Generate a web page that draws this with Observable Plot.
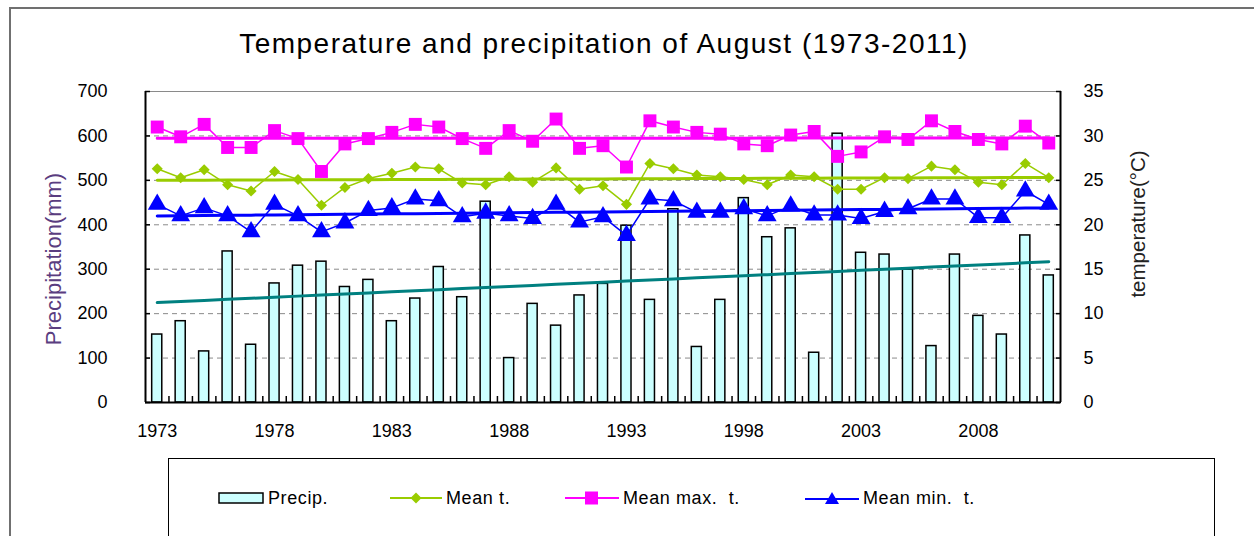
<!DOCTYPE html>
<html><head><meta charset="utf-8">
<script src="https://cdn.jsdelivr.net/npm/d3@7"></script>
<script src="https://cdn.jsdelivr.net/npm/@observablehq/plot@0.6"></script>
<style>
body{margin:0;background:#fff;font-family:"Liberation Sans",Arial,sans-serif;}
#wrap{position:relative;width:1254px;height:536px;overflow:hidden;background:#fff;}
#outer{position:absolute;left:9px;top:7px;width:1400px;height:700px;border:2px solid #707070;box-sizing:border-box;}
#title{position:absolute;left:0;width:1208px;top:28px;text-align:center;font-size:28px;letter-spacing:1.5px;line-height:32px;color:#000;white-space:nowrap;}
#chart{position:absolute;left:0;top:0;}
#legend{position:absolute;left:168px;top:458px;width:1047px;height:120px;border:1.5px solid #000;box-sizing:border-box;}
.item{position:absolute;top:487px;height:22px;display:flex;align-items:center;font-size:18px;letter-spacing:0.6px;color:#000;white-space:pre;}
.item svg{margin-right:4px;}
</style></head>
<body>
<div id="wrap">
  <div id="outer"></div>
  <div id="chart"></div>
  <div id="title">Temperature and precipitation of August (1973-2011)</div>
  <div id="legend"></div>
  <div class="item" style="left:218px"><svg width="46" height="14"><rect x="1" y="2" width="44" height="10" fill="#ccffff" stroke="#000" stroke-width="1.5"/></svg>Precip.</div>
  <div class="item" style="left:390px"><svg width="52" height="14"><line x1="0" y1="7" x2="52" y2="7" stroke="#99cc00" stroke-width="2"/><path d="M26,1.5L31.5,7L26,12.5L20.5,7Z" fill="#99cc00"/></svg>Mean t.</div>
  <div class="item" style="left:565px"><svg width="54" height="14"><line x1="0" y1="7" x2="54" y2="7" stroke="#ff00ff" stroke-width="2"/><rect x="20" y="0.5" width="13" height="13" fill="#ff00ff"/></svg>Mean max.  t.</div>
  <div class="item" style="left:805px"><svg width="54" height="14"><line x1="0" y1="8" x2="54" y2="8" stroke="#0000ff" stroke-width="2"/><path d="M27,1L34,13L20,13Z" fill="#0000ff"/></svg>Mean min.  t.</div>
</div>
<script>
// ---- data ----
const years = [1973,1974,1975,1976,1977,1978,1979,1980,1981,1982,1983,1984,1985,1986,1987,1988,1989,1990,1991,1992,1993,1994,1995,1996,1997,1998,1999,2000,2001,2002,2003,2004,2005,2006,2007,2008,2009,2010,2011];
const precip = [153,183,115,340,130,268,308,317,260,276,183,234,305,237,452,100,222,173,241,267,398,231,435,125,231,460,372,392,112,605,337,333,299,127,333,195,153,376,286];
const meanT = [26.3,25.3,26.2,24.5,23.8,26.0,25.1,22.2,24.2,25.2,25.8,26.5,26.3,24.7,24.5,25.4,24.8,26.4,24.0,24.4,22.3,26.9,26.3,25.6,25.4,25.1,24.5,25.6,25.4,24.0,24.0,25.3,25.2,26.6,26.2,24.8,24.5,26.9,25.3];
const maxT = [31.0,29.9,31.3,28.7,28.7,30.6,29.7,26.0,29.1,29.7,30.4,31.3,31.0,29.7,28.6,30.6,29.4,31.9,28.6,28.9,26.5,31.7,31.0,30.4,30.2,29.1,28.9,30.1,30.5,27.7,28.2,29.9,29.6,31.7,30.5,29.6,29.1,31.1,29.2];
const minT = [22.3,21.0,21.9,21.0,19.2,22.3,21.0,19.2,20.2,21.6,21.9,22.9,22.7,20.9,21.3,21.0,20.7,22.3,20.3,20.9,18.8,22.9,22.7,21.4,21.4,21.8,21.0,22.1,21.1,21.1,20.7,21.5,21.8,22.9,22.9,20.8,20.8,23.8,22.3];
const precipTicks = [0,100,200,300,400,500,600,700];
const tempTicks = [0,5,10,15,20,25,30,35];
const yearLabels = [1973,1978,1983,1988,1993,1998,2003,2008];

// ---- derived ----
const K = 700 / 35; // temperature -> precipitation scale factor
const rows = years.map((year, i) => ({year, precip: precip[i], meanT: meanT[i] * K, maxT: maxT[i] * K, minT: minT[i] * K}));
function trend(key) {
  const xs = rows.map((d, i) => i), ys = rows.map(d => d[key]);
  const mx = d3.mean(xs), my = d3.mean(ys);
  const b = d3.sum(xs.map((x, i) => (x - mx) * (ys[i] - my))) / d3.sum(xs.map(x => (x - mx) ** 2));
  return rows.map((d, i) => ({year: d.year, v: my + b * (i - mx)}));
}

const W = 1254, H = 536, ML = 145, MR = 194, MT = 91, MB = 134;
const step = (W - ML - MR) / years.length;
const green = "#99cc00", magenta = "#ff00ff", blue = "#0000ff", teal = "#008080";

const chart = Plot.plot({
  width: W, height: H,
  marginLeft: ML, marginRight: MR, marginTop: MT, marginBottom: MB,
  style: {fontFamily: '"Liberation Sans", Arial, sans-serif', fontSize: "18px", color: "#000", background: "transparent"},
  x: {type: "band", domain: years, paddingInner: 0.57, paddingOuter: 0.285, round: false, label: null},
  y: {domain: [0, 700], label: null},
  marks: [
    Plot.ruleY(precipTicks.slice(1, -1), {stroke: "#8a8a8a", strokeWidth: 1, strokeDasharray: "5,4"}),
    Plot.frame({stroke: "#8a8a8a", strokeWidth: 1}),
    Plot.barY(rows, {x: "year", y: "precip", fill: "#ccffff", stroke: "#000", strokeWidth: 1.5}),
    Plot.line(trend("precip"), {x: "year", y: "v", stroke: teal, strokeWidth: 3}),
    Plot.line(rows, {x: "year", y: "maxT", stroke: magenta, strokeWidth: 1.5}),
    Plot.line(rows, {x: "year", y: "meanT", stroke: green, strokeWidth: 1.5}),
    Plot.line(rows, {x: "year", y: "minT", stroke: blue, strokeWidth: 1.5}),
    Plot.line(trend("maxT"), {x: "year", y: "v", stroke: magenta, strokeWidth: 3}),
    Plot.line(trend("meanT"), {x: "year", y: "v", stroke: green, strokeWidth: 3}),
    Plot.line(trend("minT"), {x: "year", y: "v", stroke: blue, strokeWidth: 3}),
    Plot.dot(rows, {x: "year", y: "maxT", symbol: "square", r: 7.3, fill: magenta, stroke: "none"}),
    Plot.dot(rows, {x: "year", y: "meanT", symbol: "diamond2", r: 5, fill: green, stroke: "none"}),
    Plot.dot(rows, {x: "year", y: "minT", symbol: "triangle", r: 7, fill: blue, stroke: "none"}),
    Plot.ruleY([0], {stroke: "#000", strokeWidth: 2}),
    Plot.ruleX([years[0]], {stroke: "#000", strokeWidth: 2, dx: -step / 2}),
    Plot.ruleX([years[years.length - 1]], {stroke: "#000", strokeWidth: 2, dx: step / 2}),
    // left axis
    Plot.axisY({anchor: "left", ticks: precipTicks, tickSize: 0, tickPadding: 38, fontSize: 18, label: null}),
    Plot.axisY({anchor: "left", ticks: precipTicks, tickSize: 5, dx: 5, tickFormat: () => "", label: null, strokeWidth: 1.5}),
    // right axis (temperature)
    Plot.axisY({anchor: "right", ticks: precipTicks, tickSize: 0, tickPadding: 23, tickFormat: d => String(d / K), fontSize: 18, label: null}),
    Plot.axisY({anchor: "right", ticks: precipTicks, tickSize: 5, dx: -5, tickFormat: () => "", label: null, strokeWidth: 1.5}),
    // bottom axis
    Plot.axisX({anchor: "bottom", ticks: yearLabels, tickSize: 0, tickPadding: 22, tickFormat: d => String(d), fontSize: 18, label: null}),
    Plot.axisX({anchor: "bottom", ticks: years.slice(1), tickSize: 6, dy: -6, dx: -step / 2, tickFormat: () => "", label: null, strokeWidth: 1.5}),
    // axis titles
    Plot.text(["Precipitation(mm)"], {frameAnchor: "left", textAnchor: "middle", dx: -92, dy: 12, rotate: -90, fontSize: 22, fill: "#5a3d80"}),
    Plot.text(["temperature(°C)"], {frameAnchor: "right", textAnchor: "middle", dx: 78, dy: -23, rotate: -90, fontSize: 20.5, fill: "#222"})
  ]
});
document.getElementById("chart").appendChild(chart);
</script>
</body></html>
